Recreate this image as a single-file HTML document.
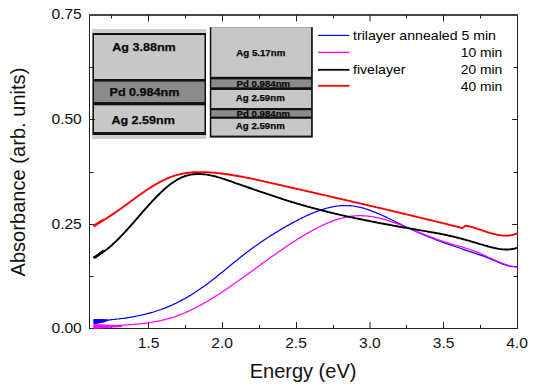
<!DOCTYPE html>
<html><head><meta charset="utf-8"><style>
html,body{margin:0;padding:0;background:#fff;width:539px;height:388px;overflow:hidden}
svg{display:block}
text{font-family:"Liberation Sans",sans-serif}
</style></head><body>
<svg width="539" height="388" viewBox="0 0 539 388">
<rect width="539" height="388" fill="#fff"/>
<!-- insets -->
<g>
 <rect x="92" y="29" width="114" height="110" fill="#cbcfd3"/>
 <rect x="92.5" y="33" width="113.5" height="102" fill="#111"/>
 <rect x="94" y="35" width="110.5" height="44" fill="#c8c8c8"/>
 <rect x="94" y="81.6" width="110.5" height="20.5" fill="#8b8b8b"/>
 <rect x="94" y="105.3" width="110.5" height="26.7" fill="#c8c8c8"/>
 <text x="112.3" y="50.6" font-size="11.3" font-weight="bold" fill="#0a0a0a" stroke="#0a0a0a" stroke-width="0.25" textLength="63.5" lengthAdjust="spacingAndGlyphs">Ag 3.88nm</text>
 <text x="109.5" y="96" font-size="11.3" font-weight="bold" fill="#0a0a0a" stroke="#0a0a0a" stroke-width="0.25" textLength="70" lengthAdjust="spacingAndGlyphs">Pd 0.984nm</text>
 <text x="111.4" y="124.4" font-size="11.3" font-weight="bold" fill="#0a0a0a" stroke="#0a0a0a" stroke-width="0.25" textLength="63.5" lengthAdjust="spacingAndGlyphs">Ag 2.59nm</text>
</g>
<g>
 <rect x="209.8" y="27.2" width="103" height="110.4" fill="#111"/>
 <rect x="211.3" y="27.2" width="99.8" height="49.6" fill="#c7c7c7"/>
 <rect x="211.3" y="79.4" width="99.8" height="7.9" fill="#8b8b8b"/>
 <rect x="211.3" y="90" width="99.8" height="18" fill="#c7c7c7"/>
 <rect x="211.3" y="110.2" width="99.8" height="6.4" fill="#8b8b8b"/>
 <rect x="211.3" y="118.8" width="99.8" height="16.8" fill="#c7c7c7"/>
 <text x="236.3" y="56.2" font-size="9" font-weight="bold" fill="#0a0a0a" stroke="#0a0a0a" stroke-width="0.25" textLength="49" lengthAdjust="spacingAndGlyphs">Ag 5.17nm</text>
 <text x="236.6" y="86.7" font-size="9" font-weight="bold" fill="#0a0a0a" stroke="#0a0a0a" stroke-width="0.25" textLength="53.5" lengthAdjust="spacingAndGlyphs">Pd 0.984nm</text>
 <text x="235.8" y="100.5" font-size="9" font-weight="bold" fill="#0a0a0a" stroke="#0a0a0a" stroke-width="0.25" textLength="49" lengthAdjust="spacingAndGlyphs">Ag 2.59nm</text>
 <text x="236.6" y="116.6" font-size="9" font-weight="bold" fill="#0a0a0a" stroke="#0a0a0a" stroke-width="0.25" textLength="53.5" lengthAdjust="spacingAndGlyphs">Pd 0.984nm</text>
 <text x="235.8" y="128.5" font-size="9" font-weight="bold" fill="#0a0a0a" stroke="#0a0a0a" stroke-width="0.25" textLength="49" lengthAdjust="spacingAndGlyphs">Ag 2.59nm</text>
</g>
<!-- frame -->
<g stroke="#222" stroke-width="1" fill="none">
 <rect x="89.5" y="15" width="428" height="313.5"/>
 <rect x="89" y="14" width="429" height="2" fill="#45454f" stroke="none"/>
 <line x1="111.5" y1="328.0" x2="111.5" y2="325.0"/>
 <line x1="111.5" y1="15.0" x2="111.5" y2="18.5"/>
 <line x1="148.5" y1="328.0" x2="148.5" y2="322.0"/>
 <line x1="148.5" y1="15.0" x2="148.5" y2="21.5"/>
 <line x1="185.5" y1="328.0" x2="185.5" y2="325.0"/>
 <line x1="185.5" y1="15.0" x2="185.5" y2="18.5"/>
 <line x1="222.5" y1="328.0" x2="222.5" y2="322.0"/>
 <line x1="222.5" y1="15.0" x2="222.5" y2="21.5"/>
 <line x1="259.5" y1="328.0" x2="259.5" y2="325.0"/>
 <line x1="259.5" y1="15.0" x2="259.5" y2="18.5"/>
 <line x1="296.5" y1="328.0" x2="296.5" y2="322.0"/>
 <line x1="296.5" y1="15.0" x2="296.5" y2="21.5"/>
 <line x1="333.5" y1="328.0" x2="333.5" y2="325.0"/>
 <line x1="333.5" y1="15.0" x2="333.5" y2="18.5"/>
 <line x1="370.0" y1="328.0" x2="370.0" y2="322.0"/>
 <line x1="370.0" y1="15.0" x2="370.0" y2="21.5"/>
 <line x1="406.5" y1="328.0" x2="406.5" y2="325.0"/>
 <line x1="406.5" y1="15.0" x2="406.5" y2="18.5"/>
 <line x1="443.5" y1="328.0" x2="443.5" y2="322.0"/>
 <line x1="443.5" y1="15.0" x2="443.5" y2="21.5"/>
 <line x1="480.5" y1="328.0" x2="480.5" y2="325.0"/>
 <line x1="480.5" y1="15.0" x2="480.5" y2="18.5"/>
 <line x1="89.5" y1="276.5" x2="93.5" y2="276.5"/>
 <line x1="517.5" y1="276.5" x2="513.5" y2="276.5"/>
 <line x1="89.5" y1="224.5" x2="95.0" y2="224.5"/>
 <line x1="517.5" y1="224.5" x2="512.0" y2="224.5"/>
 <line x1="89.5" y1="172.5" x2="93.5" y2="172.5"/>
 <line x1="517.5" y1="172.5" x2="513.5" y2="172.5"/>
 <line x1="89.5" y1="119.5" x2="95.0" y2="119.5"/>
 <line x1="517.5" y1="119.5" x2="512.0" y2="119.5"/>
 <line x1="89.5" y1="67.5" x2="93.5" y2="67.5"/>
 <line x1="517.5" y1="67.5" x2="513.5" y2="67.5"/>
</g>
<!-- curves -->
<g fill="none" stroke-width="1.25" stroke-linejoin="round" stroke-linecap="round">
 <path d="M93.5 321.3 L95.0 321.2 L96.5 321.1 L98.0 320.9 L99.5 320.8 L101.0 320.7 L102.5 320.5 L104.0 320.4 L105.5 320.3 L107.0 320.1 L108.5 320.0 L110.0 319.9 L111.5 319.7 L113.0 319.5 L114.5 319.4 L116.0 319.2 L117.5 319.0 L119.0 318.9 L120.5 318.7 L122.0 318.5 L123.5 318.3 L125.0 318.1 L126.5 317.8 L128.0 317.6 L129.5 317.4 L131.0 317.1 L132.5 316.9 L134.0 316.6 L135.5 316.3 L137.0 316.0 L138.5 315.7 L140.0 315.4 L141.5 315.1 L143.0 314.7 L144.5 314.4 L146.0 314.0 L147.5 313.6 L149.0 313.2 L150.5 312.8 L152.0 312.4 L153.5 312.0 L155.0 311.5 L156.5 311.0 L158.0 310.5 L159.5 310.0 L161.0 309.5 L162.5 308.9 L164.0 308.4 L165.5 307.8 L167.0 307.2 L168.5 306.6 L170.0 305.9 L171.5 305.3 L173.0 304.6 L174.5 303.9 L176.0 303.2 L177.5 302.4 L179.0 301.7 L180.5 300.9 L182.0 300.1 L183.5 299.3 L185.0 298.5 L186.5 297.6 L188.0 296.8 L189.5 295.9 L191.0 295.0 L192.5 294.0 L194.0 293.1 L195.5 292.1 L197.0 291.1 L198.5 290.1 L200.0 289.1 L201.5 288.0 L203.0 287.0 L204.5 285.9 L206.0 284.8 L207.5 283.7 L209.0 282.5 L210.5 281.4 L212.0 280.2 L213.5 279.1 L215.0 277.9 L216.5 276.7 L218.0 275.5 L219.5 274.3 L221.0 273.1 L222.5 271.9 L224.0 270.7 L225.5 269.4 L227.0 268.2 L228.5 267.0 L230.0 265.8 L231.5 264.5 L233.0 263.3 L234.5 262.1 L236.0 260.9 L237.5 259.7 L239.0 258.5 L240.5 257.3 L242.0 256.1 L243.5 254.9 L245.0 253.8 L246.5 252.6 L248.0 251.5 L249.5 250.4 L251.0 249.2 L252.5 248.1 L254.0 247.0 L255.5 246.0 L257.0 244.9 L258.5 243.9 L260.0 242.8 L261.5 241.8 L263.0 240.8 L264.5 239.8 L266.0 238.8 L267.5 237.8 L269.0 236.8 L270.5 235.8 L272.0 234.9 L273.5 233.9 L275.0 233.0 L276.5 232.1 L278.0 231.2 L279.5 230.3 L281.0 229.4 L282.5 228.5 L284.0 227.6 L285.5 226.8 L287.0 225.9 L288.5 225.1 L290.0 224.2 L291.5 223.4 L293.0 222.6 L294.5 221.8 L296.0 221.0 L297.5 220.2 L299.0 219.4 L300.5 218.7 L302.0 217.9 L303.5 217.2 L305.0 216.5 L306.5 215.8 L308.0 215.1 L309.5 214.4 L311.0 213.7 L312.5 213.1 L314.0 212.5 L315.5 211.9 L317.0 211.3 L318.5 210.8 L320.0 210.2 L321.5 209.7 L323.0 209.3 L324.5 208.8 L326.0 208.4 L327.5 208.0 L329.0 207.6 L330.5 207.3 L332.0 206.9 L333.5 206.7 L335.0 206.4 L336.5 206.2 L338.0 206.0 L339.5 205.8 L341.0 205.7 L342.5 205.6 L344.0 205.6 L345.5 205.5 L347.0 205.6 L348.5 205.6 L350.0 205.7 L351.5 205.9 L353.0 206.0 L354.5 206.2 L356.0 206.5 L357.5 206.8 L359.0 207.1 L360.5 207.4 L362.0 207.8 L363.5 208.2 L365.0 208.7 L366.5 209.1 L368.0 209.6 L369.5 210.2 L371.0 210.7 L372.5 211.3 L374.0 211.8 L375.5 212.4 L377.0 213.1 L378.5 213.7 L380.0 214.4 L381.5 215.0 L383.0 215.7 L384.5 216.4 L386.0 217.1 L387.5 217.8 L389.0 218.5 L390.5 219.3 L392.0 220.0 L393.5 220.7 L395.0 221.5 L396.5 222.2 L398.0 223.0 L399.5 223.7 L401.0 224.4 L402.5 225.2 L404.0 225.9 L405.5 226.7 L407.0 227.4 L408.5 228.1 L410.0 228.8 L411.5 229.5 L413.0 230.2 L414.5 230.8 L416.0 231.5 L417.5 232.2 L419.0 232.8 L420.5 233.5 L422.0 234.1 L423.5 234.7 L425.0 235.3 L426.5 236.0 L428.0 236.6 L429.5 237.2 L431.0 237.7 L432.5 238.3 L434.0 238.9 L435.5 239.5 L437.0 240.1 L438.5 240.6 L440.0 241.2 L441.5 241.7 L443.0 242.3 L444.5 242.8 L446.0 243.3 L447.5 243.9 L449.0 244.4 L450.5 244.9 L452.0 245.5 L453.5 246.0 L455.0 246.5 L456.5 247.0 L458.0 247.5 L459.5 248.0 L461.0 248.5 L462.5 249.1 L464.0 249.6 L465.5 250.1 L467.0 250.6 L468.5 251.1 L470.0 251.6 L471.5 252.1 L473.0 252.6 L474.5 253.1 L476.0 253.6 L477.5 254.1 L479.0 254.6 L480.5 255.1 L482.0 255.6 L483.5 256.2 L485.0 256.7 L486.5 257.3 L488.0 257.9 L489.5 258.5 L491.0 259.1 L492.5 259.7 L494.0 260.4 L495.5 261.0 L497.0 261.7 L498.5 262.3 L500.0 263.0 L501.5 263.6 L503.0 264.2 L504.5 264.7 L506.0 265.2 L507.5 265.6 L509.0 266.0 L510.5 266.3 L512.0 266.5 L513.5 266.6 L515.0 266.7 L516.5 266.6 L517.1 266.5" stroke="#0000ff"/>
 <path d="M93.5 326.7 L95.0 326.6 L96.5 326.5 L98.0 326.4 L99.5 326.3 L101.0 326.2 L102.5 326.1 L104.0 326.0 L105.5 326.0 L107.0 325.9 L108.5 325.8 L110.0 325.7 L111.5 325.7 L113.0 325.6 L114.5 325.5 L116.0 325.5 L117.5 325.4 L119.0 325.3 L120.5 325.2 L122.0 325.2 L123.5 325.1 L125.0 325.0 L126.5 324.9 L128.0 324.8 L129.5 324.7 L131.0 324.6 L132.5 324.5 L134.0 324.4 L135.5 324.2 L137.0 324.1 L138.5 324.0 L140.0 323.8 L141.5 323.7 L143.0 323.5 L144.5 323.3 L146.0 323.1 L147.5 322.9 L149.0 322.7 L150.5 322.5 L152.0 322.2 L153.5 322.0 L155.0 321.7 L156.5 321.4 L158.0 321.2 L159.5 320.8 L161.0 320.5 L162.5 320.2 L164.0 319.8 L165.5 319.4 L167.0 319.0 L168.5 318.6 L170.0 318.2 L171.5 317.7 L173.0 317.3 L174.5 316.8 L176.0 316.3 L177.5 315.7 L179.0 315.2 L180.5 314.6 L182.0 314.0 L183.5 313.4 L185.0 312.8 L186.5 312.1 L188.0 311.4 L189.5 310.7 L191.0 310.0 L192.5 309.3 L194.0 308.6 L195.5 307.8 L197.0 307.0 L198.5 306.2 L200.0 305.4 L201.5 304.6 L203.0 303.8 L204.5 302.9 L206.0 302.0 L207.5 301.2 L209.0 300.3 L210.5 299.4 L212.0 298.4 L213.5 297.5 L215.0 296.6 L216.5 295.6 L218.0 294.7 L219.5 293.7 L221.0 292.7 L222.5 291.7 L224.0 290.7 L225.5 289.7 L227.0 288.7 L228.5 287.7 L230.0 286.7 L231.5 285.6 L233.0 284.6 L234.5 283.6 L236.0 282.5 L237.5 281.4 L239.0 280.4 L240.5 279.3 L242.0 278.2 L243.5 277.2 L245.0 276.1 L246.5 275.0 L248.0 273.9 L249.5 272.8 L251.0 271.8 L252.5 270.7 L254.0 269.6 L255.5 268.5 L257.0 267.4 L258.5 266.3 L260.0 265.2 L261.5 264.1 L263.0 263.0 L264.5 262.0 L266.0 260.9 L267.5 259.8 L269.0 258.7 L270.5 257.6 L272.0 256.6 L273.5 255.5 L275.0 254.4 L276.5 253.4 L278.0 252.3 L279.5 251.3 L281.0 250.2 L282.5 249.2 L284.0 248.2 L285.5 247.1 L287.0 246.1 L288.5 245.1 L290.0 244.1 L291.5 243.1 L293.0 242.1 L294.5 241.2 L296.0 240.2 L297.5 239.3 L299.0 238.3 L300.5 237.4 L302.0 236.5 L303.5 235.6 L305.0 234.7 L306.5 233.8 L308.0 232.9 L309.5 232.1 L311.0 231.2 L312.5 230.4 L314.0 229.6 L315.5 228.8 L317.0 228.0 L318.5 227.2 L320.0 226.5 L321.5 225.8 L323.0 225.1 L324.5 224.4 L326.0 223.7 L327.5 223.1 L329.0 222.5 L330.5 221.9 L332.0 221.3 L333.5 220.7 L335.0 220.2 L336.5 219.7 L338.0 219.2 L339.5 218.8 L341.0 218.4 L342.5 218.0 L344.0 217.6 L345.5 217.3 L347.0 217.0 L348.5 216.7 L350.0 216.4 L351.5 216.2 L353.0 216.1 L354.5 215.9 L356.0 215.8 L357.5 215.7 L359.0 215.7 L360.5 215.7 L362.0 215.7 L363.5 215.8 L365.0 215.8 L366.5 216.0 L368.0 216.1 L369.5 216.3 L371.0 216.5 L372.5 216.7 L374.0 217.0 L375.5 217.3 L377.0 217.6 L378.5 217.9 L380.0 218.3 L381.5 218.6 L383.0 219.0 L384.5 219.4 L386.0 219.9 L387.5 220.3 L389.0 220.8 L390.5 221.3 L392.0 221.8 L393.5 222.3 L395.0 222.8 L396.5 223.3 L398.0 223.9 L399.5 224.4 L401.0 225.0 L402.5 225.6 L404.0 226.2 L405.5 226.8 L407.0 227.4 L408.5 228.0 L410.0 228.6 L411.5 229.2 L413.0 229.8 L414.5 230.4 L416.0 231.1 L417.5 231.7 L419.0 232.3 L420.5 232.9 L422.0 233.5 L423.5 234.1 L425.0 234.7 L426.5 235.3 L428.0 235.9 L429.5 236.5 L431.0 237.1 L432.5 237.7 L434.0 238.2 L435.5 238.8 L437.0 239.4 L438.5 239.9 L440.0 240.4 L441.5 240.9 L443.0 241.4 L444.5 241.9 L446.0 242.4 L447.5 242.9 L449.0 243.3 L450.5 243.8 L452.0 244.2 L453.5 244.6 L455.0 245.0 L456.5 245.5 L458.0 245.9 L459.5 246.3 L461.0 246.7 L462.5 247.2 L464.0 247.6 L465.5 248.1 L467.0 248.5 L468.5 249.0 L470.0 249.5 L471.5 250.0 L473.0 250.6 L474.5 251.1 L476.0 251.7 L477.5 252.3 L479.0 252.9 L480.5 253.6 L482.0 254.2 L483.5 254.9 L485.0 255.6 L486.5 256.3 L488.0 257.0 L489.5 257.6 L491.0 258.3 L492.5 259.0 L494.0 259.7 L495.5 260.4 L497.0 261.0 L498.5 261.7 L500.0 262.3 L501.5 262.9 L503.0 263.5 L504.5 264.0 L506.0 264.5 L507.5 265.0 L509.0 265.5 L510.5 265.9 L512.0 266.2 L513.5 266.5 L515.0 266.8 L516.5 267.0 L517.0 267.0" stroke="#ff00ff"/>
 <path d="M93.8 257.3 L95.3 256.6 L96.8 255.9 L98.3 255.1 L99.8 254.2 L101.3 253.3 L102.8 252.3 L104.3 251.2 L105.8 250.1 L107.3 249.0 L108.8 247.7 L110.3 246.5 L111.8 245.2 L113.3 243.8 L114.8 242.4 L116.3 241.0 L117.8 239.5 L119.3 238.0 L120.8 236.4 L122.3 234.9 L123.8 233.3 L125.3 231.7 L126.8 230.0 L128.3 228.4 L129.8 226.7 L131.3 225.0 L132.8 223.3 L134.3 221.6 L135.8 219.8 L137.3 218.1 L138.8 216.4 L140.3 214.7 L141.8 213.0 L143.3 211.2 L144.8 209.5 L146.3 207.8 L147.8 206.2 L149.3 204.5 L150.8 202.9 L152.3 201.2 L153.8 199.6 L155.3 198.1 L156.8 196.5 L158.3 195.0 L159.8 193.5 L161.3 192.1 L162.8 190.7 L164.3 189.3 L165.8 188.0 L167.3 186.7 L168.8 185.5 L170.3 184.3 L171.8 183.2 L173.3 182.2 L174.8 181.2 L176.3 180.2 L177.8 179.4 L179.3 178.6 L180.8 177.8 L182.3 177.2 L183.8 176.6 L185.3 176.0 L186.8 175.6 L188.3 175.2 L189.8 174.8 L191.3 174.5 L192.8 174.3 L194.3 174.2 L195.8 174.0 L197.3 174.0 L198.8 174.0 L200.3 174.0 L201.8 174.1 L203.3 174.2 L204.8 174.4 L206.3 174.6 L207.8 174.8 L209.3 175.1 L210.8 175.4 L212.3 175.7 L213.8 176.0 L215.3 176.4 L216.8 176.8 L218.3 177.3 L219.8 177.7 L221.3 178.2 L222.8 178.6 L224.3 179.1 L225.8 179.6 L227.3 180.1 L228.8 180.7 L230.3 181.2 L231.8 181.7 L233.3 182.2 L234.8 182.8 L236.3 183.3 L237.8 183.8 L239.3 184.3 L240.8 184.9 L242.3 185.4 L243.8 185.9 L245.3 186.4 L246.8 187.0 L248.3 187.5 L249.8 188.0 L251.3 188.5 L252.8 189.1 L254.3 189.6 L255.8 190.1 L257.3 190.6 L258.8 191.1 L260.3 191.6 L261.8 192.2 L263.3 192.7 L264.8 193.2 L266.3 193.7 L267.8 194.2 L269.3 194.7 L270.8 195.2 L272.3 195.7 L273.8 196.2 L275.3 196.7 L276.8 197.2 L278.3 197.7 L279.8 198.2 L281.3 198.7 L282.8 199.2 L284.3 199.6 L285.8 200.1 L287.3 200.6 L288.8 201.1 L290.3 201.5 L291.8 202.0 L293.3 202.4 L294.8 202.9 L296.3 203.3 L297.8 203.8 L299.3 204.2 L300.8 204.7 L302.3 205.1 L303.8 205.5 L305.3 205.9 L306.8 206.4 L308.3 206.8 L309.8 207.2 L311.3 207.6 L312.8 208.0 L314.3 208.4 L315.8 208.8 L317.3 209.2 L318.8 209.6 L320.3 210.0 L321.8 210.4 L323.3 210.8 L324.8 211.1 L326.3 211.5 L327.8 211.9 L329.3 212.2 L330.8 212.6 L332.3 213.0 L333.8 213.3 L335.3 213.7 L336.8 214.0 L338.3 214.4 L339.8 214.7 L341.3 215.1 L342.8 215.4 L344.3 215.8 L345.8 216.1 L347.3 216.4 L348.8 216.8 L350.3 217.1 L351.8 217.4 L353.3 217.7 L354.8 218.1 L356.3 218.4 L357.8 218.7 L359.3 219.0 L360.8 219.3 L362.3 219.6 L363.8 219.9 L365.3 220.2 L366.8 220.5 L368.3 220.8 L369.8 221.1 L371.3 221.4 L372.8 221.7 L374.3 222.0 L375.8 222.3 L377.3 222.6 L378.8 222.9 L380.3 223.2 L381.8 223.4 L383.3 223.7 L384.8 224.0 L386.3 224.3 L387.8 224.6 L389.3 224.8 L390.8 225.1 L392.3 225.4 L393.8 225.7 L395.3 225.9 L396.8 226.2 L398.3 226.5 L399.8 226.7 L401.3 227.0 L402.8 227.3 L404.3 227.5 L405.8 227.8 L407.3 228.1 L408.8 228.3 L410.3 228.6 L411.8 228.8 L413.3 229.1 L414.8 229.3 L416.3 229.6 L417.8 229.9 L419.3 230.1 L420.8 230.4 L422.3 230.6 L423.8 230.9 L425.3 231.1 L426.8 231.4 L428.3 231.7 L429.8 231.9 L431.3 232.2 L432.8 232.4 L434.3 232.7 L435.8 233.0 L437.3 233.3 L438.8 233.5 L440.3 233.8 L441.8 234.1 L443.3 234.4 L444.8 234.7 L446.3 235.0 L447.8 235.4 L449.3 235.7 L450.8 236.0 L452.3 236.4 L453.8 236.7 L455.3 237.1 L456.8 237.5 L458.3 237.9 L459.8 238.3 L461.3 238.6 L462.8 239.1 L464.3 239.5 L465.8 239.9 L467.3 240.3 L468.8 240.7 L470.3 241.2 L471.8 241.6 L473.3 242.0 L474.8 242.5 L476.3 242.9 L477.8 243.4 L479.3 243.8 L480.8 244.3 L482.3 244.7 L483.8 245.2 L485.3 245.6 L486.8 246.0 L488.3 246.5 L489.8 246.9 L491.3 247.3 L492.8 247.6 L494.3 248.0 L495.8 248.3 L497.3 248.6 L498.8 248.9 L500.3 249.1 L501.8 249.3 L503.3 249.4 L504.8 249.5 L506.3 249.5 L507.8 249.5 L509.3 249.4 L510.8 249.2 L512.3 249.0 L513.8 248.7 L515.3 248.4 L516.8 247.9 L517.0 247.8" stroke="#000" stroke-width="1.9"/>
 <path d="M94.2 258 L99 254.4 L104 250.7" stroke="#000" stroke-width="2.7" stroke-linecap="butt"/>
 <path d="M93.8 225.5 L95.3 224.7 L96.8 224.0 L98.3 223.2 L99.8 222.4 L101.3 221.5 L102.8 220.6 L104.3 219.7 L105.8 218.8 L107.3 217.9 L108.8 216.9 L110.3 215.9 L111.8 214.9 L113.3 213.9 L114.8 212.9 L116.3 211.8 L117.8 210.8 L119.3 209.7 L120.8 208.6 L122.3 207.6 L123.8 206.5 L125.3 205.4 L126.8 204.3 L128.3 203.2 L129.8 202.1 L131.3 201.0 L132.8 199.9 L134.3 198.8 L135.8 197.7 L137.3 196.6 L138.8 195.5 L140.3 194.5 L141.8 193.4 L143.3 192.4 L144.8 191.3 L146.3 190.3 L147.8 189.3 L149.3 188.3 L150.8 187.4 L152.3 186.4 L153.8 185.5 L155.3 184.6 L156.8 183.7 L158.3 182.9 L159.8 182.1 L161.3 181.3 L162.8 180.5 L164.3 179.8 L165.8 179.1 L167.3 178.4 L168.8 177.8 L170.3 177.2 L171.8 176.6 L173.3 176.1 L174.8 175.6 L176.3 175.2 L177.8 174.8 L179.3 174.4 L180.8 174.0 L182.3 173.7 L183.8 173.4 L185.3 173.2 L186.8 173.0 L188.3 172.8 L189.8 172.6 L191.3 172.5 L192.8 172.3 L194.3 172.2 L195.8 172.2 L197.3 172.1 L198.8 172.1 L200.3 172.1 L201.8 172.1 L203.3 172.1 L204.8 172.1 L206.3 172.2 L207.8 172.3 L209.3 172.4 L210.8 172.5 L212.3 172.6 L213.8 172.7 L215.3 172.8 L216.8 173.0 L218.3 173.1 L219.8 173.3 L221.3 173.5 L222.8 173.7 L224.3 173.9 L225.8 174.1 L227.3 174.3 L228.8 174.5 L230.3 174.7 L231.8 175.0 L233.3 175.2 L234.8 175.5 L236.3 175.7 L237.8 176.0 L239.3 176.3 L240.8 176.5 L242.3 176.8 L243.8 177.1 L245.3 177.4 L246.8 177.7 L248.3 178.0 L249.8 178.3 L251.3 178.6 L252.8 178.9 L254.3 179.2 L255.8 179.6 L257.3 179.9 L258.8 180.2 L260.3 180.6 L261.8 180.9 L263.3 181.2 L264.8 181.6 L266.3 181.9 L267.8 182.2 L269.3 182.6 L270.8 182.9 L272.3 183.3 L273.8 183.6 L275.3 183.9 L276.8 184.3 L278.3 184.6 L279.8 185.0 L281.3 185.3 L282.8 185.6 L284.3 186.0 L285.8 186.3 L287.3 186.7 L288.8 187.0 L290.3 187.4 L291.8 187.7 L293.3 188.0 L294.8 188.4 L296.3 188.7 L297.8 189.1 L299.3 189.4 L300.8 189.7 L302.3 190.1 L303.8 190.4 L305.3 190.8 L306.8 191.1 L308.3 191.5 L309.8 191.8 L311.3 192.1 L312.8 192.5 L314.3 192.8 L315.8 193.2 L317.3 193.5 L318.8 193.9 L320.3 194.2 L321.8 194.6 L323.3 194.9 L324.8 195.2 L326.3 195.6 L327.8 195.9 L329.3 196.3 L330.8 196.6 L332.3 197.0 L333.8 197.3 L335.3 197.7 L336.8 198.0 L338.3 198.4 L339.8 198.7 L341.3 199.0 L342.8 199.4 L344.3 199.7 L345.8 200.1 L347.3 200.4 L348.8 200.8 L350.3 201.1 L351.8 201.5 L353.3 201.8 L354.8 202.2 L356.3 202.5 L357.8 202.9 L359.3 203.2 L360.8 203.6 L362.3 203.9 L363.8 204.3 L365.3 204.6 L366.8 205.0 L368.3 205.3 L369.8 205.7 L371.3 206.0 L372.8 206.4 L374.3 206.7 L375.8 207.1 L377.3 207.4 L378.8 207.8 L380.3 208.1 L381.8 208.5 L383.3 208.8 L384.8 209.2 L386.3 209.6 L387.8 209.9 L389.3 210.3 L390.8 210.6 L392.3 211.0 L393.8 211.3 L395.3 211.7 L396.8 212.0 L398.3 212.4 L399.8 212.8 L401.3 213.1 L402.8 213.5 L404.3 213.8 L405.8 214.2 L407.3 214.6 L408.8 214.9 L410.3 215.3 L411.8 215.6 L413.3 216.0 L414.8 216.4 L416.3 216.7 L417.8 217.1 L419.3 217.4 L420.8 217.8 L422.3 218.2 L423.8 218.5 L425.3 218.9 L426.8 219.3 L428.3 219.6 L429.8 220.0 L431.3 220.3 L432.8 220.7 L434.3 221.1 L435.8 221.4 L437.3 221.8 L438.8 222.2 L440.3 222.5 L441.8 222.9 L443.3 223.3 L444.8 223.6 L446.3 224.0 L447.8 224.4 L449.3 224.8 L450.8 225.1 L452.3 225.5 L453.8 225.9 L455.3 226.2 L456.8 226.6 L458.3 227.0 L459.8 227.4 L461.1 227.7 L462.5 228.1 L464.5 226.4  L465.6 225.6 L467.1 225.9 L468.6 226.2 L470.1 226.6 L471.6 226.9 L473.1 227.4 L474.6 227.8 L476.1 228.3 L477.6 228.8 L479.1 229.3 L480.6 229.8 L482.1 230.3 L483.6 230.8 L485.1 231.3 L486.6 231.8 L488.1 232.3 L489.6 232.8 L491.1 233.2 L492.6 233.6 L494.1 234.0 L495.6 234.4 L497.1 234.7 L498.6 235.0 L500.1 235.2 L501.6 235.4 L503.1 235.6 L504.6 235.6 L506.1 235.7 L507.6 235.6 L509.1 235.5 L510.6 235.3 L512.1 235.0 L513.6 234.6 L515.1 234.2 L516.6 233.7 L516.9 233.5" stroke="#ff0000" stroke-width="1.9"/>
 <path d="M94 226.2 L98.6 222.8 L104 219.5" stroke="#ff0000" stroke-width="2.6" stroke-linecap="butt"/>
 <path d="M93.5 319 L104 319 L110 320 L104 322.5 L96 324 L93.5 324 Z" fill="#0000ff" stroke="none"/>
 <path d="M93.5 324 L110 324.7 L122 325.3 L122 327 L110 327.8 L93.5 329 Z" fill="#ff00ff" stroke="none"/>
</g>
<!-- legend -->
<g>
 <line x1="318" y1="35.4" x2="349.5" y2="35.4" stroke="#0000ff" stroke-width="1.15"/>
 <line x1="318" y1="52.4" x2="349.5" y2="52.4" stroke="#ff00ff" stroke-width="1.4"/>
 <line x1="318" y1="69.8" x2="349.5" y2="69.8" stroke="#000" stroke-width="1.8"/>
 <line x1="318" y1="85.8" x2="349.5" y2="85.8" stroke="#ff0000" stroke-width="1.8"/>
</g>
<g font-size="13" fill="#000">
 <text x="353.0" y="40.3" textLength="143" lengthAdjust="spacingAndGlyphs">trilayer annealed 5 min</text>
 <text x="460.8" y="57.4" textLength="41.5" lengthAdjust="spacingAndGlyphs">10 min</text>
 <text x="353.0" y="73.9" textLength="52.5" lengthAdjust="spacingAndGlyphs">fivelayer</text>
 <text x="460.8" y="73.9" textLength="41.5" lengthAdjust="spacingAndGlyphs">20 min</text>
 <text x="460.8" y="90.5" textLength="41.5" lengthAdjust="spacingAndGlyphs">40 min</text>
</g>
<!-- tick labels -->
<g font-size="15.6" fill="#111" text-anchor="middle">
<text transform="translate(148.50,347.8) scale(1,0.93)">1.5</text>
<text transform="translate(222.20,347.8) scale(1,0.93)">2.0</text>
<text transform="translate(296.00,347.8) scale(1,0.93)">2.5</text>
<text transform="translate(369.90,347.8) scale(1,0.93)">3.0</text>
<text transform="translate(443.70,347.8) scale(1,0.93)">3.5</text>
<text transform="translate(517.00,347.8) scale(1,0.93)">4.0</text>
</g>
<g font-size="15.6" fill="#111" text-anchor="end">
<text transform="translate(81.8,18.70) scale(1,0.93)">0.75</text>
<text transform="translate(81.8,123.60) scale(1,0.93)">0.50</text>
<text transform="translate(81.8,229.00) scale(1,0.93)">0.25</text>
<text transform="translate(81.8,332.80) scale(1,0.93)">0.00</text>
</g>
<text x="249.7" y="378" font-size="20" fill="#111">Energy (eV)</text>
<text transform="translate(25.3,276.5) rotate(-90)" font-size="20.1" fill="#111">Absorbance (arb. units)</text>
</svg>
</body></html>
